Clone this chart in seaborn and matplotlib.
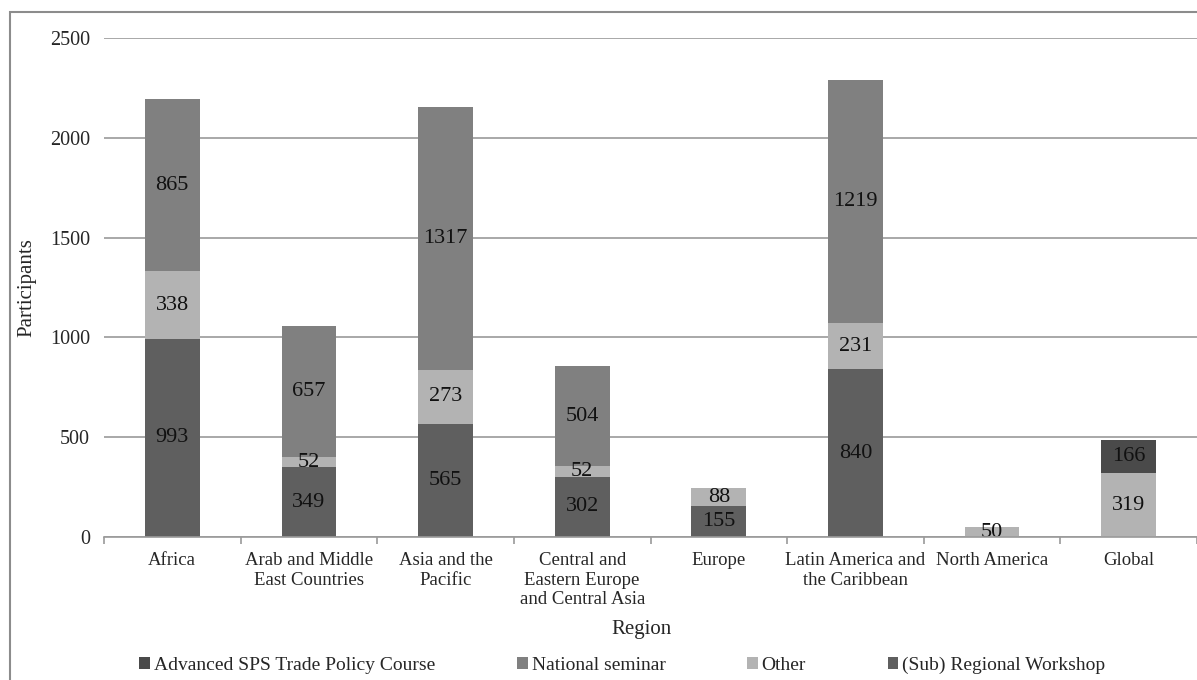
import numpy as np
import pandas as pd
import matplotlib
matplotlib.use("Agg")
import matplotlib.pyplot as plt
import seaborn as sns
from matplotlib.patches import Rectangle, Patch

# Data
regions = ["Africa", "Arab and Middle\nEast Countries", "Asia and the\nPacific",
           "Central and\nEastern Europe\nand Central Asia", "Europe",
           "Latin America and\nthe Caribbean", "North America", "Global"]
regional_workshop = [993, 349, 565, 302, 155, 840, 0, 0]
other = [338, 52, 273, 52, 88, 231, 50, 319]
national_seminar = [865, 657, 1317, 504, 0, 1219, 0, 0]
advanced_course = [0, 0, 0, 0, 0, 0, 0, 166]

legend_names = ["Advanced SPS Trade Policy Course", "National seminar",
                "Other", "(Sub) Regional Workshop"]
yticks = [0, 500, 1000, 1500, 2000, 2500]

colors = {
    "Advanced SPS Trade Policy Course": "#4a4a4a",
    "National seminar": "#808080",
    "Other": "#b3b3b3",
    "(Sub) Regional Workshop": "#5f5f5f",
}

sns.set_theme(style="white")
plt.rcParams["font.family"] = ["Liberation Serif", "DejaVu Serif"]

# stacking order, bottom to top
stack = [("(Sub) Regional Workshop", regional_workshop),
         ("Other", other),
         ("National seminar", national_seminar),
         ("Advanced SPS Trade Policy Course", advanced_course)]

df = pd.DataFrame({"Region": regions})
bottoms = np.zeros(len(regions))
tops = {}
for name, vals in stack:
    tops[name] = bottoms + np.array(vals)
    bottoms = tops[name]

fig = plt.figure(figsize=(11.97, 6.8), dpi=100)
ax = fig.add_axes([104 / 1197, 1 - 537 / 680, 1 - 104 / 1197, (537 - 38) / 680])

# draw tallest cumulative layer first so lower layers sit on top
for name, vals in reversed(stack):
    df["cum"] = tops[name]
    sns.barplot(data=df, x="Region", y="cum", color=colors[name], width=0.4,
                saturation=1, ax=ax, linewidth=0, zorder=2)

# segment labels
for name, vals in stack:
    for i, v in enumerate(vals):
        if v > 0:
            ax.text(i, tops[name][i] - v / 2, str(v), ha="center", va="center",
                    fontsize=16, color="#111111", zorder=3)

ax.set_ylim(0, 2500)
ax.set_xlim(-0.5, len(regions) - 0.5)
ax.set_yticks(yticks)
ax.set_yticklabels([str(t) for t in yticks], fontsize=14.5)
ax.yaxis.grid(True, color="#9a9a9a", linewidth=1.2, zorder=0)
ax.set_axisbelow(True)
for s in ["top", "right", "left"]:
    ax.spines[s].set_visible(False)
ax.spines["bottom"].set_color("#9a9a9a")
ax.spines["bottom"].set_linewidth(1.2)
ax.spines["bottom"].set_zorder(4)

ax.set_xticks(range(len(regions)))
ax.set_xticklabels(regions, fontsize=13.5, linespacing=1.2, va="top")
ax.set_xticks(np.arange(-0.5, len(regions), 1.0), minor=True)
ax.tick_params(axis="x", which="major", length=0, pad=11)
ax.tick_params(axis="x", which="minor", length=5, width=1.2, color="#9a9a9a",
               direction="out", bottom=True)
ax.tick_params(axis="y", length=0, pad=10)

ax.set_xlabel("Region", fontsize=15, labelpad=4)
ax.set_ylabel("Participants", fontsize=15, labelpad=10)
ax.xaxis.set_label_coords(0.492, -0.167)

handles = [Patch(facecolor=colors[n], edgecolor="none") for n in legend_names]
fig.legend(handles, legend_names, loc="center", bbox_to_anchor=(0.52, 0.022),
           ncol=4, frameon=False, fontsize=14, handlelength=0.55,
           handleheight=0.55, handletextpad=0.2, columnspacing=4.2)

# outer chart border
fig.patches.append(Rectangle((10 / 1197, -0.05), 1.1, 1.05 - 12 / 680,
                             transform=fig.transFigure, fill=False,
                             edgecolor="#8c8c8c", linewidth=1.5))

fig.savefig("out.png", dpi=100, facecolor="white")
